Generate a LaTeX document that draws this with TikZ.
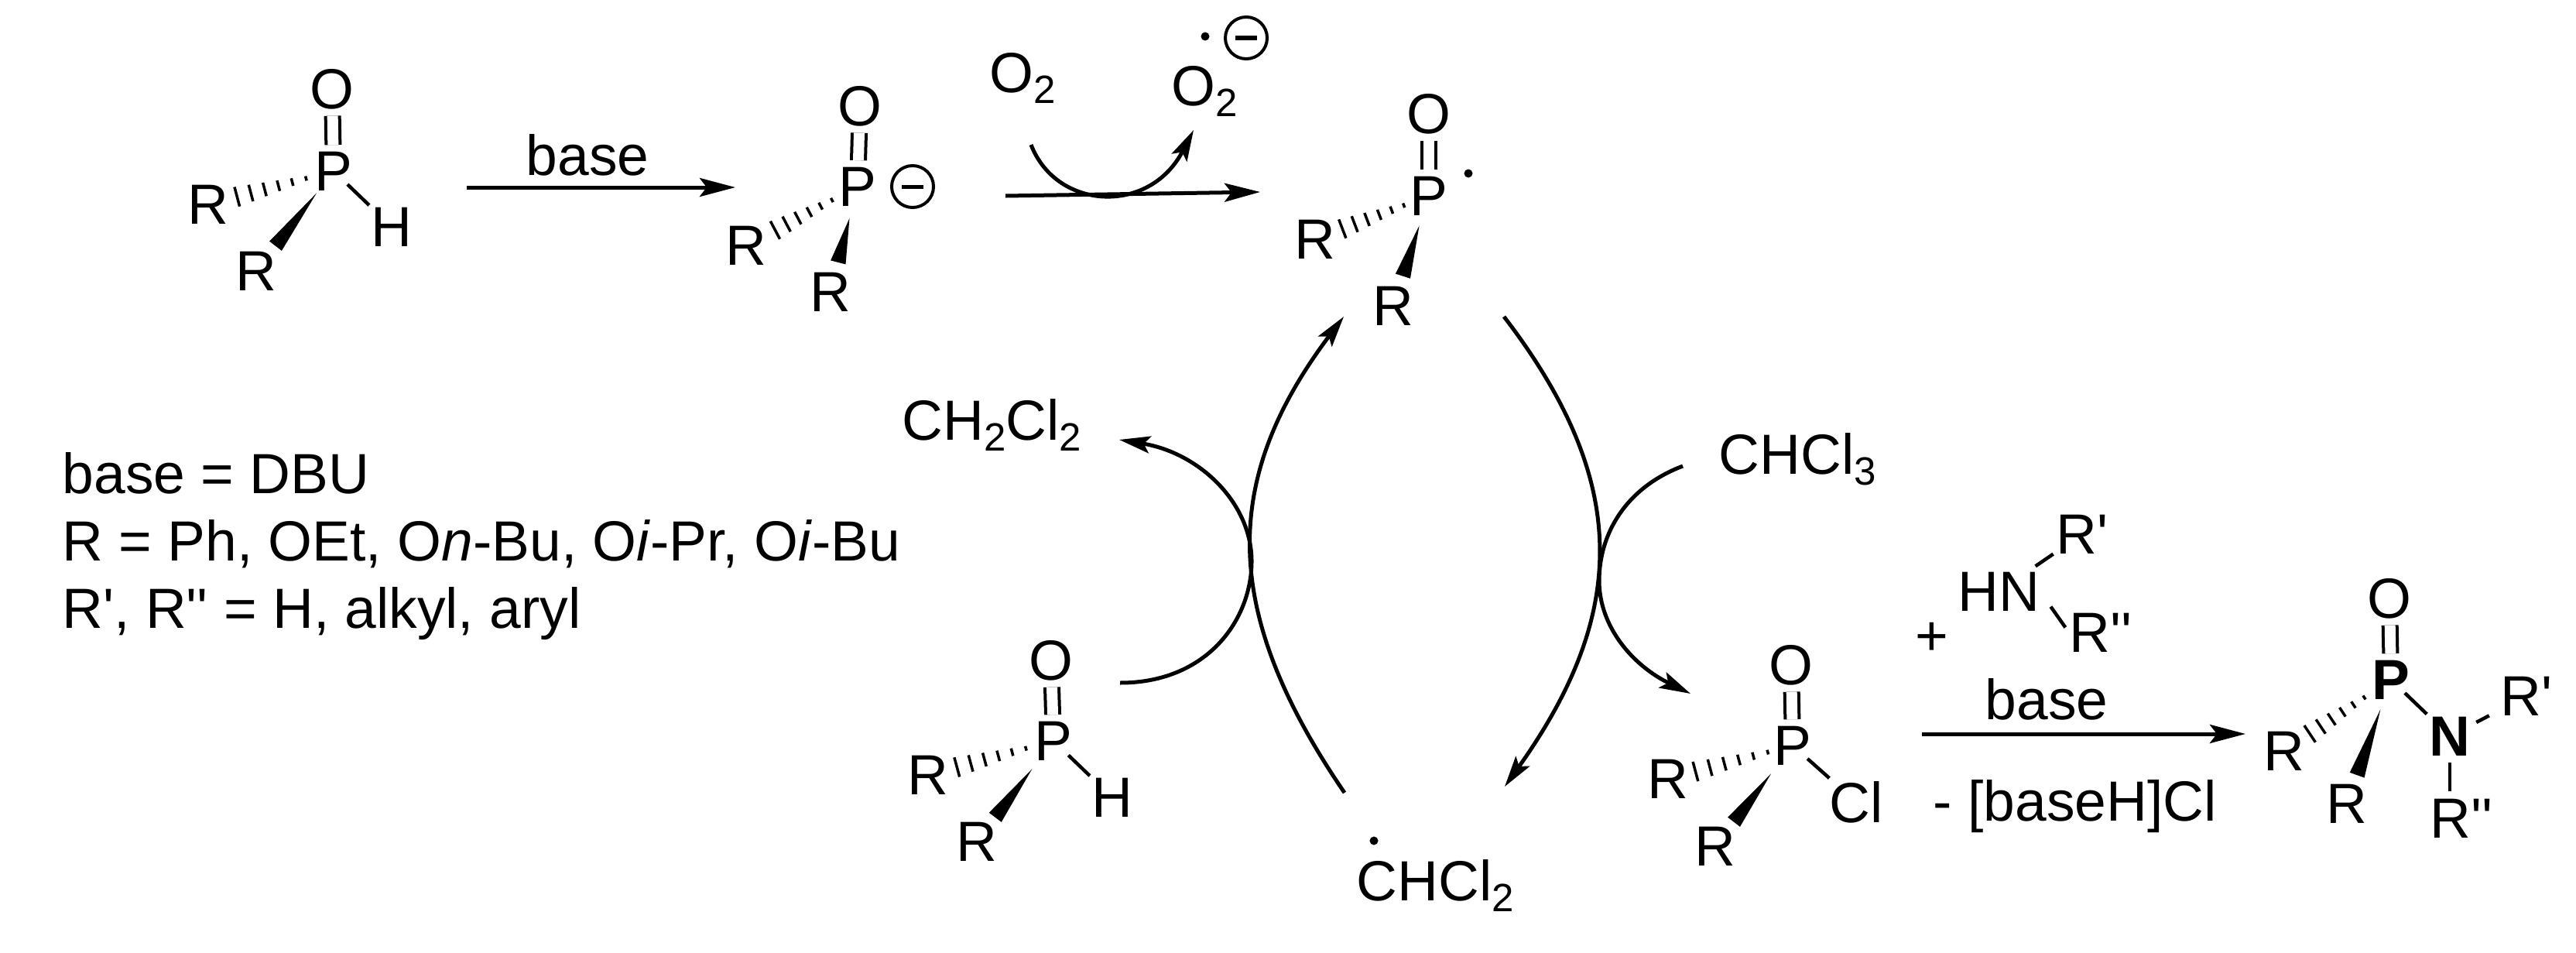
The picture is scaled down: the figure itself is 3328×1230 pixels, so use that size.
\documentclass[tikz,border=0pt]{standalone}
\usepackage{fontspec}
\newfontfamily\chemfont{Liberation Sans}
\usetikzlibrary{arrows.meta,calc}
\newcommand{\chemsub}[1]{\raisebox{-4pt}{\fontsize{14.5}{14.5}\selectfont #1}}
\newcommand{\wedgebond}[4]{%
  \fill ($(#1)!#3!(#2)$) -- ($(#1)!#4!(#2)!.1cm!90:(#2)$) -- ($(#1)!#4!(#2)!.1cm!-90:(#2)$) -- cycle;}
\newcommand{\hashbond}[4]{%
  \foreach \k in {0,...,5} {
    \pgfmathsetmacro\t{#3+(#4-#3)*\k/5}
    \pgfmathsetmacro\w{.03+.1*\k/5}
    \draw[hashline] ($(#1)!\t!(#2)!\w cm!90:(#2)$) -- ($(#1)!\t!(#2)!\w cm!-90:(#2)$);
  }}
\tikzset{%
  atom/.style={inner sep=0pt, font=\chemfont\fontsize{20.8}{25}\selectfont},
  textline/.style={atom, anchor=base west},
  bond/.style={line width=0.045cm},
  hashline/.style={line width=0.035cm},
  dbond/.style={line width=0.04cm, double, double distance=0.14cm, shorten <=0.08cm, shorten >=0.08cm},
  react/.style={line width=0.05cm, -{Stealth[length=0.46cm, width=0.24cm, inset=0.09cm]}},
  curved/.style={line width=0.05cm, -{Stealth[length=0.4cm, width=0.22cm, inset=0.08cm]}},
  raddot/.style={circle, fill=black, inner sep=0pt, minimum size=0.11cm},
  minusc/.style={circle, draw, line width=0.04cm, inner sep=0pt, minimum size=0.54cm}
}

\begin{document}
\begin{tikzpicture}[x=0.01cm, y=-0.01cm]

  \useasboundingbox (0,0) rectangle (3328,1230);

  % starting phosphine oxide
  \node[atom] (Pa) at (431,221) {P};
  \node[atom] (Oa) at (429,115) {O};
  \node[atom] (Ha) at (506,293) {H};
  \node[atom] (Raa) at (269,264) {R};
  \node[atom] (Rab) at (331,350) {R};
  \draw[dbond] (Pa) -- (Oa);
  \draw[bond, shorten <=-0.1cm, shorten >=0.03cm] (Pa) -- (Ha);
  \hashbond{Pa}{Raa}{.22}{.77}
  \wedgebond{Pa}{Rab}{.22}{.75}

  \coordinate (arrAs) at (603,242);
  \coordinate (arrAe) at (950,242);
  \draw[react] (arrAs) -- (arrAe);
  \node[atom] (baseA) at (759,200) {base};

  % anion
  \node[atom] (Pb) at (1108,241) {P};
  \node[atom] (Ob) at (1111,137) {O};
  \node[atom] (Rba) at (964,317) {R};
  \node[atom] (Rbb) at (1073,377) {R};
  \node[minusc] (minusB) at (1179,241) {\rule{0.28cm}{0.05cm}};
  \draw[dbond] (Pb) -- (Ob);
  \hashbond{Pb}{Rba}{.23}{.74}
  \wedgebond{Pb}{Rbb}{.3}{.72}

  % oxygen step
  \node[textline] (Oleft) at (1278,119) {O\chemsub{2}};
  \node[textline] (Oright) at (1513,136) {O\chemsub{2}};
  \node[raddot] (dotO) at (1557,47) {};
  \node[minusc] (minusO) at (1610,49) {\rule{0.28cm}{0.05cm}};
  \coordinate (arrBs) at (1299,253);
  \coordinate (arrBe) at (1628,248);
  \coordinate (curOs) at (1332,187);
  \coordinate (curOe) at (1542,168);
  \draw[react] (arrBs) -- (arrBe);
  \draw[curved] (curOs) .. controls (1365,272) and (1485,278) .. (curOe);

  % radical
  \node[atom] (Pc) at (1846,253) {P};
  \node[atom] (Oc) at (1846,147) {O};
  \node[atom] (Rca) at (1699,309) {R};
  \node[atom] (Rcb) at (1800,395) {R};
  \node[raddot] (dotP) at (1897,224) {};
  \draw[dbond] (Pc) -- (Oc);
  \hashbond{Pc}{Rca}{.22}{.76}
  \wedgebond{Pc}{Rcb}{.27}{.73}

  % legend
  \node[textline] (legA) at (80,637) {base = DBU};
  \node[textline] (legB) at (80,724) {R = Ph, OEt, O\textit{n}-Bu, O\textit{i}-Pr, O\textit{i}-Bu};
  \node[textline] (legC) at (80,811) {R', R'' = H, alkyl, aryl};

  % cycle
  \coordinate (arcLs) at (1737,1024);
  \coordinate (arcLe) at (1736,409);
  \coordinate (arcRs) at (1943,409);
  \coordinate (arcRe) at (1944,1016);
  \draw[curved] (arcLs) .. controls (1577,790) and (1577,620) .. (arcLe);
  \draw[curved] (arcRs) .. controls (2105,620) and (2105,790) .. (arcRe);

  \node[textline] (dcm) at (1165,568) {CH\chemsub{2}Cl\chemsub{2}};
  \node[textline] (chl) at (2220,612) {CHCl\chemsub{3}};
  \coordinate (curDs) at (1447,882);
  \coordinate (curDe) at (1446,568);
  \coordinate (curCs) at (2174,602);
  \coordinate (curCe) at (2184,896);
  \draw[curved] (curDs) .. controls (1560,882) and (1617,800) .. (1617,725)
    .. controls (1617,650) and (1550,585) .. (curDe);
  \draw[curved] (curCs) .. controls (2100,630) and (2066,690) .. (2066,750)
    .. controls (2066,810) and (2110,860) .. (curCe);

  % phosphine oxide in the cycle
  \node[atom] (Pd) at (1361,957) {P};
  \node[atom] (Od) at (1358,853) {O};
  \node[atom] (Hd) at (1437,1030) {H};
  \node[atom] (Rda) at (1199,1001) {R};
  \node[atom] (Rdb) at (1262,1087) {R};
  \draw[dbond] (Pd) -- (Od);
  \draw[bond, shorten <=-0.08cm, shorten >=0.03cm] (Pd) -- (Hd);
  \hashbond{Pd}{Rda}{.22}{.77}
  \wedgebond{Pd}{Rdb}{.28}{.76}

  \node[textline] (chcl) at (1752,1163) {CHCl\chemsub{2}};
  \node[raddot] (dotC) at (1775,1086) {};

  % chloride
  \node[atom] (Pe) at (2316,963) {P};
  \node[atom] (Oe) at (2314,859) {O};
  \node[atom] (Cle) at (2398,1036) {Cl};
  \node[atom] (Rea) at (2155,1006) {R};
  \node[atom] (Reb) at (2216,1093) {R};
  \draw[dbond] (Pe) -- (Oe);
  \draw[bond, shorten <=-0.08cm, shorten >=0.05cm] (Pe) -- (Cle);
  \hashbond{Pe}{Rea}{.2}{.78}
  \wedgebond{Pe}{Reb}{.28}{.76}

  % amine
  \node[atom] (plus) at (2496,825) {+};
  \node[atom] (HN) at (2582,764) {HN};
  \node[atom] (Rg) at (2690,690) {R'};
  \node[atom] (Rh) at (2714,817) {R''};
  \draw[bond, shorten <=0.12cm, shorten >=0.04cm] (HN) -- (Rg);
  \draw[bond, shorten <=0.24cm, shorten >=0.08cm] (HN.east) -- (Rh.west);

  \coordinate (arrCs) at (2483,948);
  \coordinate (arrCe) at (2901,948);
  \draw[react] (arrCs) -- (arrCe);
  \node[atom] (baseC) at (2644,903) {base};
  \node[textline] (minusH) at (2497,1060) {- [baseH]Cl};

  % amide
  \node[atom] (Pf) at (3089,878) {\textbf{P}};
  \node[atom] (Of) at (3087,773) {O};
  \node[atom] (Nf) at (3165,951) {\textbf{N}};
  \node[atom] (Rfa) at (2951,970) {R};
  \node[atom] (Rfb) at (3032,1038) {R};
  \node[atom] (Rfc) at (3264,899) {R'};
  \node[atom] (Rfd) at (3180,1057) {R''};
  \draw[dbond] (Pf) -- (Of);
  \draw[bond, shorten <=-0.1cm, shorten >=0.04cm] (Pf) -- (Nf);
  \draw[bond, shorten <=0.08cm, shorten >=0.16cm] (Nf) -- (Rfc);
  \draw[bond, shorten <=0.08cm, shorten >=0.09cm] (Nf.south) -- (Nf.south |- Rfd.north);
  \hashbond{Pf}{Rfa}{.25}{.76}
  \wedgebond{Pf}{Rfb}{.24}{.77}

\end{tikzpicture}
\end{document}
